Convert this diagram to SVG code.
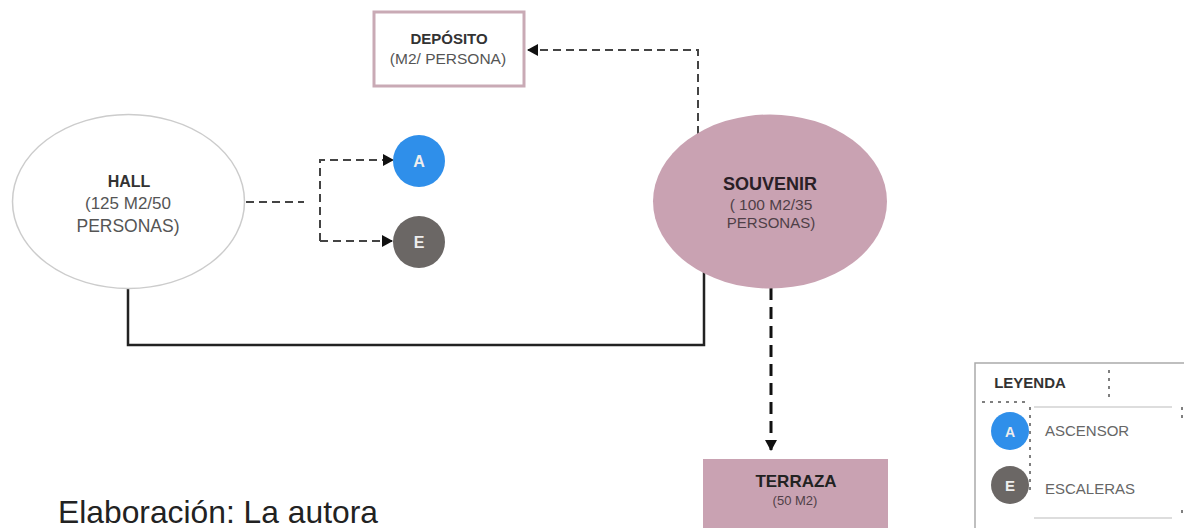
<svg xmlns="http://www.w3.org/2000/svg" width="1184" height="528" viewBox="0 0 1184 528">
<style>
text{font-family:"Liberation Sans",Arial,sans-serif;text-anchor:middle;fill:#555}
.b{font-weight:700;fill:#333}
.d{fill:none;stroke:#444;stroke-width:2;stroke-dasharray:8 5}
.k{fill:none;stroke:#111;stroke-width:3;stroke-dasharray:12 7}
.s{fill:none;stroke:#222;stroke-width:2.5}
.w{fill:#eee;font-weight:700}
.l{text-anchor:start;fill:#666;font-size:15px}
.t{fill:none;stroke:#555;stroke-width:1.5;stroke-dasharray:3 5}
</style>
<defs>
<marker id="a" markerUnits="userSpaceOnUse" markerWidth="12" markerHeight="12" refX="10" refY="6" orient="auto"><path d="M0 0L11 6L0 12Z" fill="#111"/></marker>
</defs>
<rect width="1184" height="528" fill="#fff"/>
<g id="connectors">
<path class="d" d="M246 202H304"/>
<path class="d" d="M320 241V160H393" marker-end="url(#a)"/>
<path class="d" d="M320 241H392" marker-end="url(#a)"/>
<path class="d" d="M698 134V50H528" marker-end="url(#a)"/>
<path class="s" d="M128 286V345H704V268"/>
<path class="k" d="M771 288V450" marker-end="url(#a)"/>
</g>
<g id="hall"><ellipse cx="128.500" cy="201.500" rx="116" ry="87" fill="#fff" stroke="#ccc" stroke-width="1.5"/>
<text class="b" x="129" y="187" font-size="16">HALL</text><text x="128" y="209" font-size="17">(125 M2/50</text><text x="128" y="232" font-size="17.500">PERSONAS)</text></g>
<g id="deposito"><rect x="374" y="12" width="150" height="74" fill="#fff" stroke="#c9aab5" stroke-width="3"/>
<text class="b" x="449" y="44" font-size="15">DEPÓSITO</text><text x="448" y="64" font-size="15.500">(M2/ PERSONA)</text></g>
<g id="a-node"><circle cx="419" cy="161" r="26" fill="#2f8fea"/><text class="w" x="419" y="167" font-size="16">A</text></g>
<g id="e-node"><circle cx="419" cy="242" r="26" fill="#6b6765"/><text class="w" x="419" y="248" font-size="16">E</text></g>
<g id="souvenir"><ellipse cx="770" cy="201.500" rx="117" ry="87" fill="#c9a2b2"/>
<text class="b" x="770" y="190" font-size="18" style="fill:#2a2026">SOUVENIR</text><text x="771" y="210" font-size="15.500" style="fill:#4f3f47">( 100 M2/35</text><text x="771" y="228" font-size="15" style="fill:#4f3f47">PERSONAS)</text></g>
<g id="terraza"><rect x="703" y="459" width="185" height="69" fill="#c9a2b2"/>
<text class="b" x="796" y="487" font-size="17" style="fill:#222">TERRAZA</text><text x="795" y="505" font-size="13" style="fill:#4f3f47">(50 M2)</text></g>
<text x="58" y="523" font-size="31.800" style="text-anchor:start;fill:#222">Elaboración: La autora</text>
<g id="leyenda"><path d="M975 528V363H1184" fill="none" stroke="#aaa" stroke-width="1.5"/>
<path d="M1034 407H1172M1034 518H1172" fill="none" stroke="#bbb" stroke-width="1.2"/>
<path class="t" d="M982 402H1030M1030 407V495M1109 370V398M1182 407V420M1182 510V518"/>
<text class="b" x="1030" y="388" font-size="15">LEYENDA</text>
<circle cx="1010" cy="431" r="19" fill="#2f8fea"/><text class="w" x="1010" y="437" font-size="14">A</text>
<circle cx="1010" cy="485" r="19" fill="#6b6765"/><text class="w" x="1010" y="491" font-size="15">E</text>
<text class="l" x="1045" y="436">ASCENSOR</text><text class="l" x="1045" y="494">ESCALERAS</text></g>
</svg>
